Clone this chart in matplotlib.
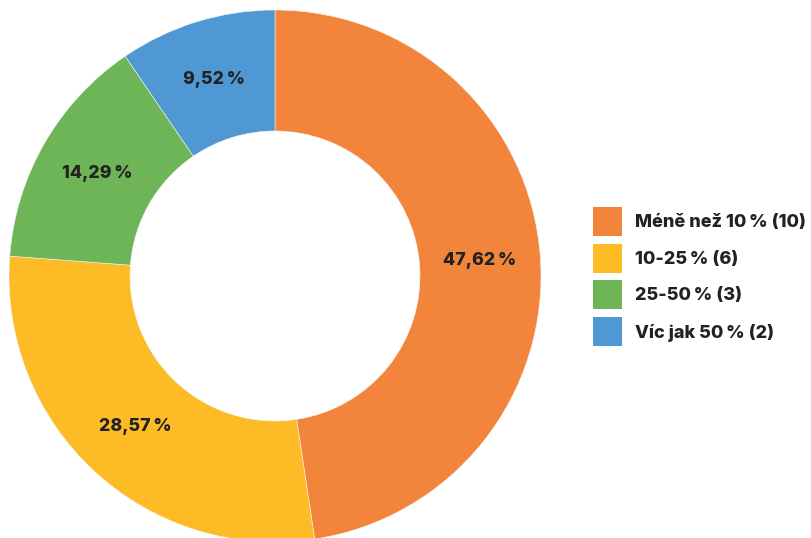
import matplotlib
matplotlib.use("Agg")
import matplotlib.pyplot as plt
from matplotlib.patches import Rectangle

categories = ["Méně než 10\u2009% (10)", "10-25\u2009% (6)", "25-50\u2009% (3)", "Víc jak 50\u2009% (2)"]
counts = [10, 6, 3, 2]
pct_labels = ["47,62\u2009%", "28,57\u2009%", "14,29\u2009%", "9,52\u2009%"]
colors = ["#F3843B", "#FDBB26", "#6DB557", "#4F98D3"]

W, H = 812, 538
fig = plt.figure(figsize=(W / 100, H / 100), dpi=100)
ax = fig.add_axes([0, 0, 1, 1])

FONT = dict(fontfamily=["Inter", "DejaVu Sans"], fontweight="heavy", color="#222222")

cx, cy, R = 275, H - 276, 266
wedges, texts = ax.pie(
    counts, colors=colors, startangle=90, counterclock=False,
    center=(cx, cy), radius=R, frame=True,
    wedgeprops=dict(width=R - 145, edgecolor="#f4f4f4", linewidth=0.4),
    labels=pct_labels, labeldistance=(R + 145) / 2 / R,
    textprops=dict(fontsize=12.8, ha="center", va="center", **FONT),
)
ax.set_xlim(0, W)
ax.set_ylim(0, H)
ax.set_aspect("equal")
ax.axis("off")

# legend (square swatch + label per category)
lx, ly0, step, sq = 593, H - 221.5, 36.7, 29
for i, (lab, col) in enumerate(zip(categories, colors)):
    yc = ly0 - i * step
    ax.add_patch(Rectangle((lx, yc - sq / 2), sq, sq, facecolor=col, edgecolor="none"))
    ax.text(lx + 42, yc - 1, lab, fontsize=13, ha="left", va="center", **FONT)

fig.savefig("out.png", dpi=100)
